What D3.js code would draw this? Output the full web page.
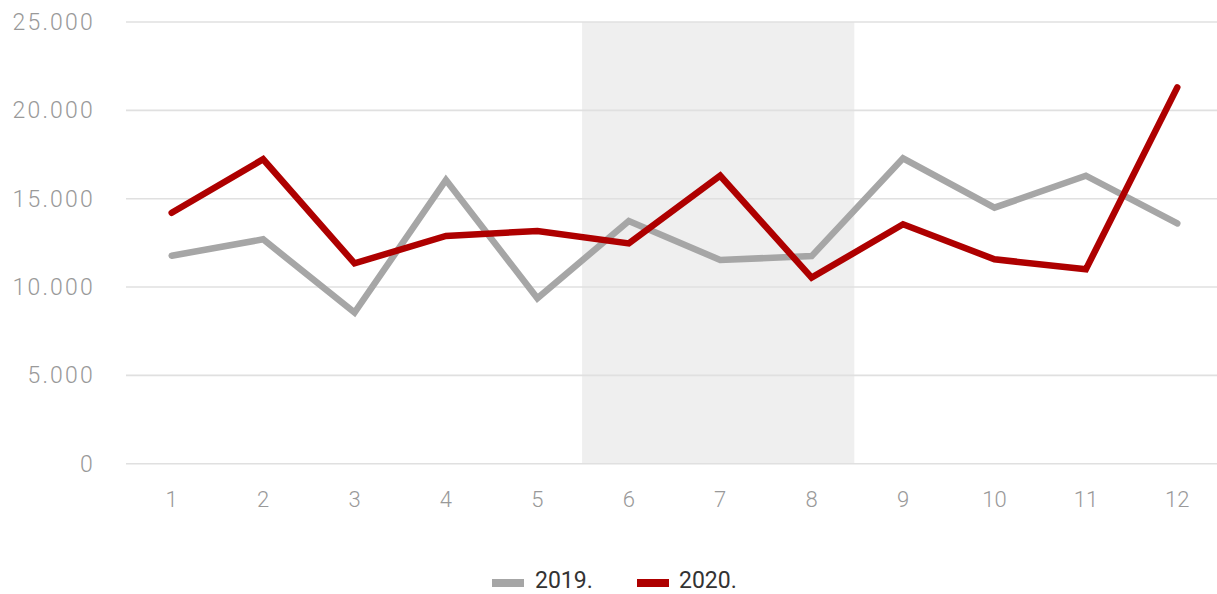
<!DOCTYPE html>
<html>
<head>
<meta charset="utf-8">
<script src="https://cdn.jsdelivr.net/npm/d3@7"></script>
<style>
  html, body { margin: 0; padding: 0; background: #fff; }
  svg { display: block; }
</style>
</head>
<body>
<svg id="chart" width="1217" height="594"></svg>
<script>
const months = ["1","2","3","4","5","6","7","8","9","10","11","12"];
const values2019 = [11770, 12700, 8550, 16060, 9360, 13740, 11530, 11750, 17280, 14490, 16300, 13600];
const values2020 = [14200, 17230, 11340, 12890, 13170, 12470, 16300, 10530, 13550, 11570, 11000, 21300];
const yTicks = [0, 5000, 10000, 15000, 20000, 25000];
const seriesNames = ["2019.", "2020."];
const seriesColors = ["#a6a6a6", "#ae0000"];
const shadedMonths = ["6", "8"];

const svg = d3.select("#chart");
const W = 1217, H = 594;

const x = d3.scaleBand().domain(months).range([126, 1223]).padding(0);
const y = d3.scaleLinear().domain([0, 25000]).range([463.7, 22]);

const loc = d3.formatLocale({ thousands: ".", grouping: [3], decimal: ",", currency: ["", ""] });
const fmt = loc.format(",d");

// shaded band
svg.append("rect")
  .attr("x", x(shadedMonths[0]) - 1)
  .attr("y", y(25000))
  .attr("width", x(shadedMonths[1]) + x.bandwidth() - x(shadedMonths[0]) - 2)
  .attr("height", y(0) - y(25000))
  .attr("fill", "#efefef");

// gridlines
svg.append("g").selectAll("line").data(yTicks).join("line")
  .attr("x1", 126).attr("x2", W)
  .attr("y1", d => y(d)).attr("y2", d => y(d))
  .attr("stroke", "#e0e0e0").attr("stroke-width", 1.6);

// y labels
svg.append("g").selectAll("text").data(yTicks).join("text")
  .attr("x", 95).attr("y", d => y(d) + 8)
  .attr("text-anchor", "end")
  .attr("font-family", "Roboto, sans-serif")
  .attr("font-weight", 300)
  .attr("font-size", 23)
  .attr("letter-spacing", 2.2)
  .attr("fill", "#999")
  .text(d => fmt(d));

// x labels
svg.append("g").selectAll("text").data(months).join("text")
  .attr("x", d => x(d) + x.bandwidth() / 2).attr("y", 507)
  .attr("text-anchor", "middle")
  .attr("font-family", "Roboto, sans-serif")
  .attr("font-weight", 300)
  .attr("font-size", 22)
  .attr("fill", "#999")
  .text(d => d);

const line = d3.line()
  .x((d, i) => x(months[i]) + x.bandwidth() / 2)
  .y(d => y(d));

[values2019, values2020].forEach((vals, k) => {
  svg.append("path")
    .datum(vals)
    .attr("d", line)
    .attr("fill", "none")
    .attr("stroke", seriesColors[k])
    .attr("stroke-width", 6.5)
    .attr("stroke-linecap", "round")
    .attr("stroke-linejoin", "miter");
});

// legend
const legendItems = [
  { name: seriesNames[0], color: seriesColors[0], sx: 492, tx: 535 },
  { name: seriesNames[1], color: seriesColors[1], sx: 637, tx: 679 }
];
const lg = svg.append("g");
legendItems.forEach(it => {
  lg.append("rect").attr("x", it.sx).attr("y", 579).attr("width", 32).attr("height", 8).attr("fill", it.color);
  lg.append("text").attr("x", it.tx).attr("y", 588)
    .attr("font-family", "Roboto, sans-serif")
    .attr("font-size", 23)
    .attr("fill", "#333")
    .text(it.name);
});
</script>
</body>
</html>
